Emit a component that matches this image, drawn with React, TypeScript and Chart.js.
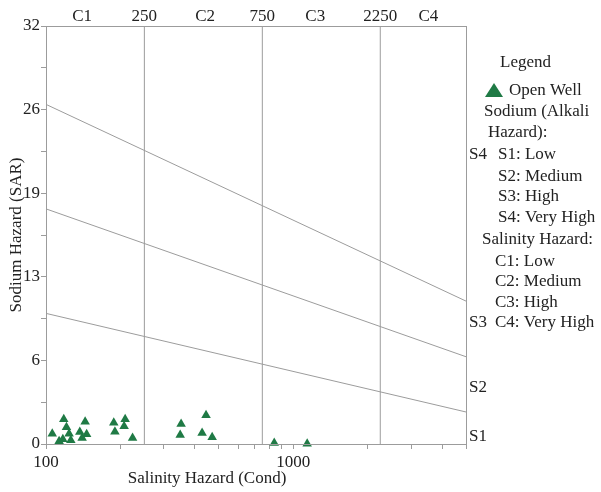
import React, { useEffect, useRef } from 'react';
import { Chart, registerables } from 'chart.js';
Chart.register(...registerables);

// Sample points (Open Well)
const wellCond = [106, 118, 121, 124, 117, 126, 113, 137, 144, 146, 140, 188, 190, 209, 207, 224, 352, 349, 444, 428, 470, 838, 1139];
const wellSAR = [0.78, 1.9, 1.28, 0.78, 0.37, 0.29, 0.22, 0.92, 1.7, 0.75, 0.45, 1.62, 0.93, 1.9, 1.36, 0.45, 1.54, 0.68, 2.2, 0.85, 0.52, 0.08, 0.02];

// Boundary lines
const conductivityLimits = [250, 750, 2250];
const sLineS1S2 = [[100, 10.0], [5000, 2.45]];
const sLineS2S3 = [[100, 18.0], [5000, 6.68]];
const sLineS3S4 = [[100, 26.0], [5000, 10.94]];

// Axes
const xTickValues = [100, 200, 300, 400, 500, 600, 700, 800, 900, 1000, 2000, 3000, 4000, 5000];
const xTickLabels = ['100', '', '', '', '', '', '', '', '', '1000', '', '', '', ''];
const yTickValues = [0, 3.2, 6.4, 9.6, 12.8, 16, 19.2, 22.4, 25.6, 28.8, 32];
const yTickLabels = ['0', '', '6', '', '13', '', '19', '', '26', '', '32'];

// Top labels
const topLabels = ['C1', '250', 'C2', '750', 'C3', '2250', 'C4'];
const topLabelValues = [140, 250, 440, 750, 1228, 2250, 3520];

// Right side labels
const sideLabels = ['S4', 'S3', 'S2', 'S1'];
const sideLabelY = [155, 323, 388, 437];

const legendLines = [
  ['Legend', 500, 63],
  ['Open Well', 509, 91],
  ['Sodium (Alkali', 484, 112],
  ['Hazard):', 488, 133],
  ['S1: Low', 498, 155],
  ['S2: Medium', 498, 177],
  ['S3: High', 498, 197],
  ['S4: Very High', 498, 218],
  ['Salinity Hazard:', 482, 240],
  ['C1: Low', 495, 262],
  ['C2: Medium', 495, 282],
  ['C3: High', 495, 303],
  ['C4: Very High', 495, 323],
] as const;

const GREEN = '#1f7a45';
const GREY = '#9c9c9c';
const TEXT = '#222222';
const FONT = '"Liberation Serif", "Times New Roman", serif';

const toPts = (arr: number[][]) => arr.map(([x, y]) => ({ x, y }));

const textPlugin = {
  id: 'textPlugin',
  afterDraw(chart: any) {
    const { ctx, chartArea } = chart;
    const xs = chart.scales.x;
    ctx.save();
    // frame
    ctx.strokeStyle = GREY;
    ctx.lineWidth = 1;
    ctx.strokeRect(chartArea.left + 0.5, chartArea.top + 0.5, chartArea.right - chartArea.left, chartArea.bottom - chartArea.top);

    ctx.fillStyle = TEXT;
    ctx.font = `17px ${FONT}`;
    ctx.textBaseline = 'middle';
    ctx.textAlign = 'center';
    topLabels.forEach((t, i) => {
      ctx.fillText(t, xs.getPixelForValue(topLabelValues[i]), 17);
    });
    ctx.textAlign = 'left';
    sideLabels.forEach((t, i) => {
      ctx.fillText(t, chartArea.right + 3, sideLabelY[i]);
    });
    legendLines.forEach(([t, x, y]) => {
      ctx.fillText(t as string, x as number, y as number);
    });
    // legend triangle
    ctx.fillStyle = GREEN;
    ctx.beginPath();
    ctx.moveTo(494, 83);
    ctx.lineTo(503, 97);
    ctx.lineTo(485, 97);
    ctx.closePath();
    ctx.fill();

    // axis titles
    ctx.fillStyle = TEXT;
    ctx.textAlign = 'center';
    ctx.fillText('Salinity Hazard (Cond)', 207, 479);
    ctx.save();
    ctx.translate(17, (chartArea.top + chartArea.bottom) / 2);
    ctx.rotate(-Math.PI / 2);
    ctx.fillText('Sodium Hazard (SAR)', 0, 0);
    ctx.restore();
    ctx.restore();
  },
};

export default function App() {
  const ref = useRef<HTMLCanvasElement>(null);
  useEffect(() => {
    if (!ref.current) return;
    const lineDs = (data: any[]) => ({
      type: 'line' as const,
      data,
      borderColor: GREY,
      borderWidth: 1,
      pointRadius: 0,
      showLine: true,
      fill: false,
      order: 2,
    });
    const datasets: any[] = [
      {
        type: 'scatter',
        label: 'Open Well',
        data: wellCond.map((c, i) => ({ x: c, y: wellSAR[i] })),
        pointStyle: 'triangle',
        pointRadius: 5.5,
        backgroundColor: GREEN,
        borderColor: GREEN,
        borderWidth: 0,
        order: 0,
        clip: false,
      },
      ...conductivityLimits.map((c) => lineDs([{ x: c, y: 0 }, { x: c, y: 32 }])),
      lineDs(toPts(sLineS1S2)),
      lineDs(toPts(sLineS2S3)),
      lineDs(toPts(sLineS3S4)),
    ];
    const chart = new Chart(ref.current, {
      type: 'scatter',
      data: { datasets },
      options: {
        responsive: false,
        animation: false,
        layout: { padding: { left: 0, top: 26, right: 135, bottom: 0 } },
        plugins: { legend: { display: false }, tooltip: { enabled: false } },
        scales: {
          x: {
            type: 'logarithmic',
            min: 100,
            max: 5000,
            afterBuildTicks: (s: any) => {
              s.ticks = xTickValues.map((v) => ({ value: v }));
            },
            afterFit: (s: any) => {
              s.height = 48;
            },
            grid: { drawOnChartArea: false, drawTicks: true, tickLength: 5, color: GREY },
            border: { display: true, color: GREY },
            ticks: {
              autoSkip: false,
              maxRotation: 0,
              padding: 3,
              color: TEXT,
              font: { family: FONT, size: 17 },
              callback: (_v: any, i: number) => xTickLabels[i],
            },
          },
          y: {
            type: 'linear',
            min: 0,
            max: 32,
            afterBuildTicks: (s: any) => {
              s.ticks = yTickValues.map((v) => ({ value: v }));
            },
            afterFit: (s: any) => {
              s.width = 46;
            },
            grid: { drawOnChartArea: false, drawTicks: true, tickLength: 5, color: GREY },
            border: { display: true, color: GREY },
            ticks: {
              autoSkip: false,
              padding: 1,
              color: TEXT,
              font: { family: FONT, size: 17 },
              callback: (_v: any, i: number) => yTickLabels[i],
            },
          },
        },
      },
      plugins: [textPlugin],
    });
    return () => chart.destroy();
  }, []);
  return (
    <div style={{ position: 'fixed', left: 0, top: 0, width: 601, height: 492, background: '#fff' }}>
      <canvas ref={ref} width={601} height={492} />
    </div>
  );
}
